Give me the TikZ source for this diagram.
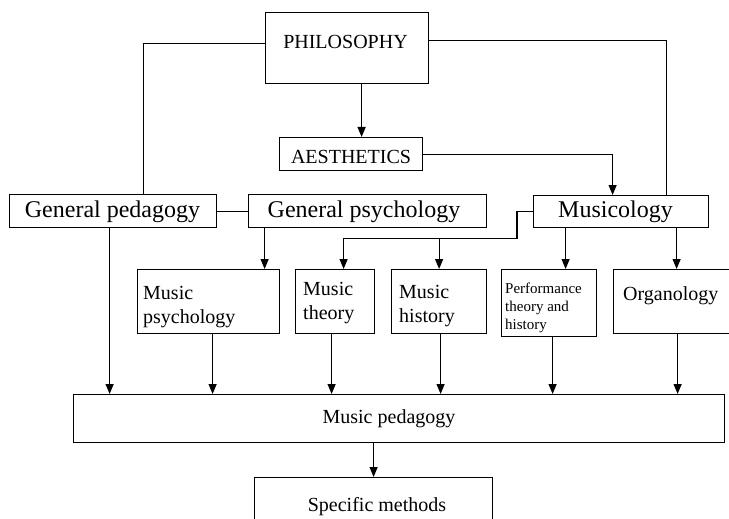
\documentclass[tikz,border=0pt]{standalone}
\usepackage{fontspec}
\setmainfont{Liberation Serif}
\usetikzlibrary{arrows.meta}
\begin{document}
\begin{tikzpicture}[x=1pt,y=-1pt,
  box/.style={draw, line width=1.2pt, inner sep=0pt, anchor=north west},
  con/.style={line width=1.2pt},
  arr/.style={line width=1.2pt, -{Triangle[width=8pt,length=10pt]}},
  txt/.style={inner sep=0pt, font=\fontsize{20}{24.5}\selectfont},
  big/.style={inner sep=0pt, font=\fontsize{24}{28}\selectfont},
  small/.style={inner sep=0pt, font=\fontsize{15}{18}\selectfont},
]
\useasboundingbox (0,0) rectangle (729,519);
\clip (0,0) rectangle (729,519);
\fill[white] (0,0) rectangle (729,519);

% boxes
\node[box, minimum width=163pt, minimum height=71pt] (philo) at (265,12) {};
\node[box, minimum width=143pt, minimum height=33pt] (aes) at (279,137) {};
\node[box, minimum width=207pt, minimum height=33pt] (gped) at (9,194) {};
\node[box, minimum width=238pt, minimum height=33pt] (gpsy) at (248,194) {};
\node[box, minimum width=175pt, minimum height=32pt] (musc) at (533,195) {};
\node[box, minimum width=142pt, minimum height=64pt] (mpsy) at (137,269) {};
\node[box, minimum width=79pt, minimum height=64pt] (mth) at (295,269) {};
\node[box, minimum width=95pt, minimum height=64pt] (mhis) at (391,269) {};
\node[box, minimum width=95pt, minimum height=67pt] (perf) at (501,269) {};
\node[box, minimum width=125pt, minimum height=64pt] (org) at (613,269) {};
\node[box, minimum width=651pt, minimum height=48pt] (mped) at (73,394) {};
\node[box, minimum width=238pt, minimum height=60pt] (spec) at (254,477) {};

% texts
\node[txt, anchor=base] (tphilo) at (345.5,49) {PHILOSOPHY};
\node[txt, anchor=base] (taes) at (351,164) {AESTHETICS};
\node[big, anchor=base] (tgped) at (112.5,217) {General pedagogy};
\node[big, anchor=base] (tgpsy) at (364,217) {General psychology};
\node[big, anchor=base] (tmusc) at (615.5,217) {Musicology};
\node[txt, anchor=base west] (tmpsy) at (143,299) {\parbox[t]{130pt}{\raggedright Music\\psychology}};
\node[txt, anchor=base west] (tmth) at (303,295) {\parbox[t]{70pt}{\raggedright Music\\theory}};
\node[txt, anchor=base west] (tmhis) at (399,298) {\parbox[t]{80pt}{\raggedright Music\\history}};
\node[small, anchor=base west] (tperf) at (505,293) {\parbox[t]{90pt}{\raggedright Performance\\theory and\\history}};
\node[txt, anchor=base west] (torg) at (623,300) {Organology};
\node[txt, anchor=base] (tmped) at (389,423) {Music pedagogy};
\node[txt, anchor=base] (tspec) at (377,511) {Specific methods};

% connectors
\draw[con] ([yshift=4.5pt]philo.west) -| ([xshift=30.5pt]gped.north);
\draw[con] ([yshift=7.5pt]philo.east) -| ([xshift=45.5pt]musc.north);
\draw[arr] ([xshift=14.5pt]philo.south) -- ([xshift=14.5pt]philo.south |- aes.north);
\draw[arr] (aes.east) -| ([xshift=-8.5pt]musc.north);
\draw[con] (gped.east) -- (gpsy.west);
\draw[arr] ([xshift=-103pt]gpsy.south) -- ([xshift=-103pt]gpsy.south |- mpsy.north);
\draw[arr] ([xshift=-3.5pt]gped.south) -- ([xshift=-3.5pt]gped.south |- mped.north);
\coordinate (bend) at (517,238.5);
\draw[arr] (musc.west) -| (bend) -| ([xshift=8.5pt]mth.north);
\draw[arr] (mhis.north |- bend) -- (mhis.north);
\draw[arr] ([xshift=-55.5pt]musc.south) -- ([xshift=-55.5pt]musc.south |- perf.north);
\draw[arr] ([xshift=55.5pt]musc.south) -- ([xshift=55.5pt]musc.south |- org.north);

\draw[arr] ([xshift=4pt]mpsy.south) -- ([xshift=4pt]mpsy.south |- mped.north);
\draw[arr] ([xshift=-3.5pt]mth.south) -- ([xshift=-3.5pt]mth.south |- mped.north);
\draw[arr] ([xshift=1.5pt]mhis.south) -- ([xshift=1.5pt]mhis.south |- mped.north);
\draw[arr] ([xshift=3.5pt]perf.south) -- ([xshift=3.5pt]perf.south |- mped.north);
\draw[arr] ([xshift=1.5pt]org.south) -- ([xshift=1.5pt]org.south |- mped.north);
\draw[arr] ([xshift=-25.5pt]mped.south) -- ([xshift=-25.5pt]mped.south |- spec.north);
\end{tikzpicture}
\end{document}
